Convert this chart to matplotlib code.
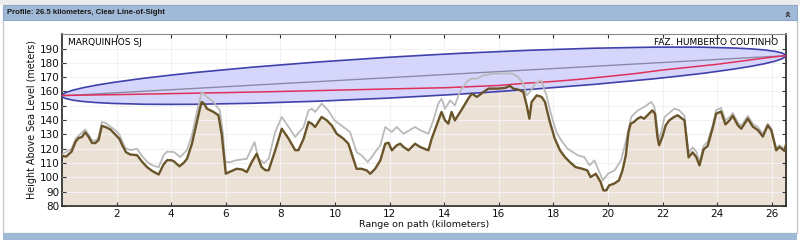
import numpy as np
import matplotlib.pyplot as plt
from matplotlib.patches import Ellipse, Rectangle
from matplotlib.transforms import Affine2D

#----Data----#
path_km = 26.5
site_names = ["MARQUINHOS SJ", "FAZ. HUMBERTO COUTINHO"]
site_heights = [157, 185]
fresnel_radius = 14.3

terrain_km = [0.0, 0.15, 0.35, 0.5, 0.61, 0.73, 0.85, 0.97, 1.1, 1.22, 1.34, 1.46, 1.59, 1.77, 1.95,
              2.1, 2.22, 2.35, 2.5, 2.75, 2.93, 3.11, 3.3, 3.54, 3.72, 3.85, 4.0, 4.1, 4.3, 4.45,
              4.58, 4.76, 4.94, 5.05, 5.12, 5.2, 5.31, 5.55, 5.73, 5.85, 5.93, 6.0, 6.16, 6.4, 6.6,
              6.77, 6.95, 7.13, 7.31, 7.45, 7.57, 7.81, 8.05, 8.3, 8.54, 8.66, 8.85, 9.03, 9.15,
              9.27, 9.51, 9.7, 9.88, 10.06, 10.31, 10.49, 10.67, 10.79, 10.97, 11.16, 11.29, 11.47,
              11.66, 11.84, 11.96, 12.08, 12.26, 12.39, 12.51, 12.69, 12.93, 13.12, 13.42, 13.54,
              13.72, 13.9, 14.03, 14.15, 14.27, 14.39, 14.51, 14.7, 14.88, 15.01, 15.2, 15.44,
              15.62, 15.98, 16.23, 16.41, 16.53, 16.71, 16.9, 17.02, 17.12, 17.2, 17.39, 17.57,
              17.69, 17.87, 18.05, 18.24, 18.42, 18.6, 18.81, 19.06, 19.24, 19.36, 19.55, 19.73,
              19.83, 19.94, 20.04, 20.22, 20.4, 20.53, 20.65, 20.75, 20.83, 20.95, 21.08, 21.2,
              21.32, 21.5, 21.62, 21.72, 21.81, 21.87, 21.99, 22.11, 22.24, 22.42, 22.55, 22.8,
              22.95, 23.1, 23.23, 23.35, 23.5, 23.65, 23.84, 23.96, 24.14, 24.3, 24.45, 24.57,
              24.75, 24.88, 25.12, 25.3, 25.49, 25.67, 25.85, 25.98, 26.16, 26.28, 26.46, 26.54]
terrain_m = [115, 114.5, 118, 125, 127.5, 128.2, 131.5, 128.5, 124, 124, 126, 136, 135.2, 133.5, 130,
             127, 122, 117.5, 116, 115.5, 111, 107.2, 104.5, 102, 109, 112, 112, 111.2, 107.7, 110,
             113, 123.5, 138.7, 148, 152.7, 151.5, 148, 145.7, 143.4, 130, 115, 102.6, 104, 106, 105.5,
             103.7, 110.7, 116.5, 107.2, 105, 105, 118.9, 134, 127, 119, 119, 127, 138.7, 137.5,
             135.2, 142.2, 139.8, 136.3, 130.5, 127, 123.5, 113, 106, 106, 104.9, 102.5, 106,
             111.9, 123.5, 124.2, 118.9, 122.4, 123.5, 121.2, 118.9, 123.5, 121.2, 118.9, 127,
             136.3, 145.7, 139.8, 137.5, 145.7, 139.8, 143.4, 149.2, 155, 158.5, 156.2, 159.7,
             162, 162, 162.5, 163.9, 162, 161.3, 159.7, 150.3, 141, 152.7, 157.3, 156.2,
             152.7, 138.7, 127, 118.9, 114.2, 110.7, 107.2, 106, 104.9, 100.2, 102.5, 96.7,
             90.9, 91, 94.4, 95.6, 97.9, 104.9, 115.4, 131.7, 137.5, 138.7, 141, 142.2,
             141, 144.5, 146.8, 144.5, 128.2, 122.4, 128.2, 136.3, 139.8, 142.2, 143.4, 139.8,
             114, 117.5, 114.2, 108.4, 119.5, 122, 135, 144.5, 146, 137, 139.8, 143,
             136.5, 134, 141, 135.5, 133, 128.5, 136.3, 132.9, 118.9, 121.2, 118.5, 124]

clutter_km = [0.0, 0.35, 0.5, 0.85, 1.1, 1.22, 1.34, 1.46, 1.6, 1.95, 2.1, 2.32, 2.5, 2.75, 2.93,
              3.11, 3.3, 3.54, 3.72, 3.85, 4.1, 4.33, 4.58, 4.76, 4.94, 5.12, 5.31, 5.55, 5.78,
              5.9, 5.97, 6.16, 6.4, 6.77, 7.05, 7.2, 7.4, 7.57, 7.81, 8.05, 8.3, 8.54, 8.85, 9.03,
              9.15, 9.27, 9.51, 9.75, 9.98, 10.31, 10.55, 10.79, 10.97, 11.2, 11.35, 11.47, 11.66,
              11.84, 12.08, 12.26, 12.51, 12.93, 13.12, 13.42, 13.6, 13.78, 13.9, 14.03, 14.22,
              14.39, 14.57, 14.82, 14.99, 15.2, 15.44, 15.8, 16.23, 16.5, 16.71, 16.9, 17.02,
              17.14, 17.33, 17.55, 17.75, 17.9, 18.1, 18.28, 18.52, 18.89, 19.13, 19.32, 19.5,
              19.81, 20.0, 20.24, 20.48, 20.66, 20.85, 21.09, 21.33, 21.58, 21.7, 21.82, 21.88,
              22.07, 22.43, 22.6, 22.8, 22.95, 23.1, 23.23, 23.35, 23.5, 23.65, 23.84, 23.96,
              24.14, 24.3, 24.45, 24.57, 24.75, 24.88, 25.12, 25.3, 25.49, 25.67, 25.85, 25.98,
              26.16, 26.28, 26.46, 26.54]
clutter_m = [116, 120, 127, 133.5, 126, 125.5, 128, 138.7, 138, 132.9, 130, 120.5, 119, 120, 115,
             111, 108.5, 107, 115.4, 118, 117.7, 114.2, 119, 129.4, 145.7, 159.7, 156.2, 152.7, 146.8,
             130, 110.7, 110.7, 112, 113, 124.7, 113, 110, 113, 131.7, 142.2, 135.2, 128.2, 135.2, 146.8,
             148, 145.7, 151.5, 146.8, 139.8, 135.2, 131.7, 117.7, 115.4, 110.7, 114.2, 117.7, 122.4,
             135.2, 131.7, 135.2, 130.5, 135.2, 132.9, 130.5, 139.8, 151.5, 155, 148, 153.8,
             150.3, 159.7, 166.7, 169, 169, 171.3, 172.5, 172.5, 172.5, 170.1, 165.5, 157.3,
             159.7, 165.5, 167.8, 157, 145, 132, 126, 120, 115.4, 114.2, 108.4, 111.9,
             97.9, 102.6, 104.9, 111.9, 125.9, 142.2, 146.8, 149.2, 152.7, 149.2, 132, 126,
             142.2, 148, 147, 143, 117, 121, 118, 111, 122, 125, 137, 147,
             148.5, 140, 142, 145, 138.5, 136, 143, 137.5, 135, 130.5, 137.5, 134,
             120.5, 122.5, 120, 125]

# line of sight corrected for earth curvature
curved_los_km = [0, 2, 4, 6, 8, 10, 12, 14, 16, 17, 18, 19, 20, 21, 22, 23, 24, 25, 26, 26.5]
curved_los_m = [157.2, 157.8, 158.5, 159.2, 160.0, 160.9, 161.8, 162.6, 164.2, 165.8, 167.0, 168.6,
                170.5, 172.5, 175.0, 177.0, 179.0, 181.5, 184.0, 185.0]

#----Figure----#
fig = plt.figure(figsize=(8, 2.4), dpi=100)
fig.patch.set_facecolor('white')

# panel frame, title bar and bottom bar (behind the axes)
fig.patches.append(Rectangle((0, 1 - 5 / 240), 1, 5 / 240, transform=fig.transFigure,
                             facecolor='#ececec', edgecolor='none', zorder=-11))
fig.patches.append(Rectangle((3 / 800, 7 / 240), 794 / 800, 214 / 240, transform=fig.transFigure,
                             facecolor='white', edgecolor='#c8c8c8', lw=1, zorder=-10))
fig.patches.append(Rectangle((3 / 800, 1 - 20 / 240), 794 / 800, 15 / 240, transform=fig.transFigure,
                             facecolor='#a0b9d6', edgecolor='#8fa8c8', lw=0.8, zorder=-9))
fig.patches.append(Rectangle((3 / 800, 0), 794 / 800, 7 / 240, transform=fig.transFigure,
                             facecolor='#a0b9d6', edgecolor='none', zorder=-9))
fig.text(7 / 800, 1 - 12.5 / 240, "Profile: 26.5 kilometers, Clear Line-of-Sight", fontsize=5.6,
         family='Liberation Sans', fontweight='bold', color='#1a1a1a', va='center', ha='left')
fig.text(788 / 800, 1 - 12.5 / 240, "\u00bb", fontsize=8, rotation=90, color='#222222',
         va='center', ha='center', fontweight='bold')

ax = fig.add_axes([62 / 800, 34 / 240, 723.5 / 800, 172.5 / 240])

ax.fill_between(terrain_km, 80, terrain_m, color='#ebe1d5', zorder=1, lw=0)
ax.grid(True, color='#f2f2f2', lw=0.8, zorder=2)
ax.set_axisbelow(False)

# fresnel zone: ellipse sheared along the straight line of sight
slope = (site_heights[1] - site_heights[0]) / path_km
shear = Affine2D(np.array([[1, 0, path_km / 2],
                           [slope, 1, site_heights[0] + slope * path_km / 2],
                           [0, 0, 1]]))
zone = Ellipse((0, 0), width=path_km, height=2 * fresnel_radius, facecolor='#cfcffc',
               edgecolor='#24249e', lw=1.2, alpha=0.85, transform=shear + ax.transData, zorder=3)
ax.add_patch(zone)

ax.plot([0, path_km], site_heights, color='#8a8aa8', lw=1, zorder=4)
ax.plot(curved_los_km, curved_los_m, color='#e0305a', lw=1.1, zorder=4)

ax.plot(clutter_km, clutter_m, color='#bababa', lw=1.3, zorder=5)
ax.plot(terrain_km, terrain_m, color='#6a552a', lw=1.7, zorder=6)

ax.set_xlim(0, path_km)
ax.set_ylim(80, 200.5)
ax.set_xticks(range(2, 27, 2))
ax.set_yticks(range(80, 191, 10))
ax.tick_params(direction='in', length=3, labelsize=7.5, top=True, right=True, pad=2,
               colors='#333333', labelcolor='#111111')
for side in ['left', 'bottom', 'right']:
    ax.spines[side].set_color('#222222')
    ax.spines[side].set_linewidth(1.2)
ax.spines['top'].set_color('#888888')

ax.set_xlabel("Range on path (kilometers)", fontsize=6.8, labelpad=1, color='#111111')
ax.set_ylabel("Height Above Sea Level (meters)", fontsize=6.9, labelpad=2, color='#111111')

ax.text(0.008, 0.975, site_names[0], transform=ax.transAxes, fontsize=6.5, va='top', ha='left', zorder=7)
ax.text(0.99, 0.975, site_names[1], transform=ax.transAxes, fontsize=6.5, va='top', ha='right', zorder=7)

fig.savefig('out.png', dpi=100)
